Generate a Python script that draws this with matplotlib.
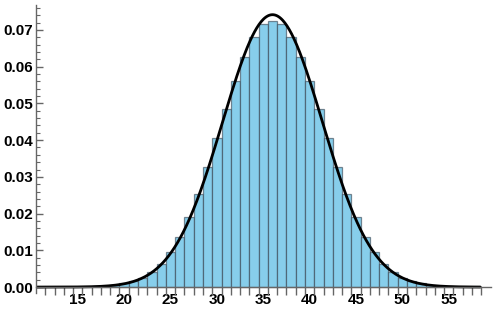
import numpy as np
import matplotlib
matplotlib.use("Agg")
import matplotlib.pyplot as plt
from matplotlib.ticker import FixedLocator, FormatStrFormatter

# Histogram data (bin centers, density heights), unit-width bins
bin_centers = list(range(15, 58))
densities = [0.00005, 0.0001, 0.0002, 0.0003, 0.0006, 0.0010, 0.0016, 0.0026,
             0.0041, 0.0064, 0.0095, 0.0136, 0.0190, 0.0253, 0.0326, 0.0405,
             0.0484, 0.0561, 0.0627, 0.0682, 0.0715, 0.0725, 0.0715, 0.0682,
             0.0627, 0.0561, 0.0484, 0.0405, 0.0326, 0.0253, 0.0190, 0.0136,
             0.0095, 0.0064, 0.0041, 0.0026, 0.0016, 0.0010, 0.0006, 0.0003,
             0.0002, 0.0001, 0.00005]

# Overlaid normal PDF parameters
mu = 36.0
sigma = 5.38
curve_range = (10.6, 58.4)

x_labels = [15, 20, 25, 30, 35, 40, 45, 50, 55]
y_labels = [0.00, 0.01, 0.02, 0.03, 0.04, 0.05, 0.06, 0.07]

plt.rcParams['font.family'] = ['Liberation Sans', 'DejaVu Sans']

fig = plt.figure(figsize=(5.0, 3.1), dpi=100)
ax = fig.add_axes([0.072, 0.055, 0.909, 0.929])

ax.bar(bin_centers, densities, width=1.0, align='center',
       color='#87CEEB', edgecolor=(0.2, 0.25, 0.3, 0.6), linewidth=0.9, zorder=2)

xs = np.linspace(curve_range[0], curve_range[1], 600)
pdf = np.exp(-0.5 * ((xs - mu) / sigma) ** 2) / (sigma * np.sqrt(2 * np.pi))
ax.plot(xs, pdf, color='black', linewidth=2.0, zorder=3, solid_capstyle='round')

ax.set_xlim(10.5, 59.5)
ax.set_ylim(-0.0016, 0.0768)

for s in ['top', 'right']:
    ax.spines[s].set_visible(False)
ax.spines['bottom'].set_position(('data', 0))
axis_col = '#666666'
for s in ['bottom', 'left']:
    ax.spines[s].set_color(axis_col)
    ax.spines[s].set_linewidth(1.0)
    ax.spines[s].set_zorder(4)

# x ticks: labels at integers, tick marks at half-integers
ax.xaxis.set_major_locator(FixedLocator(x_labels))
ax.xaxis.set_minor_locator(FixedLocator(np.arange(11.5, 59.0, 1.0)))
ax.tick_params(axis='x', which='major', length=0, pad=4.5, labelsize=11)
ax.tick_params(axis='x', which='minor', length=5.5, width=1.0, direction='out', color=axis_col)

# y ticks
ax.yaxis.set_major_locator(FixedLocator(y_labels))
ax.yaxis.set_minor_locator(FixedLocator(np.arange(0.0, 0.0769, 0.002)))
ax.yaxis.set_major_formatter(FormatStrFormatter('%.2f'))
ax.tick_params(axis='y', which='major', length=5, width=1.0, direction='in', color=axis_col, pad=2, labelsize=11)
ax.tick_params(axis='y', which='minor', length=3, width=0.8, direction='in', color=axis_col)

for lbl in ax.get_xticklabels() + ax.get_yticklabels():
    lbl.set_fontweight('bold')

fig.savefig('out.png', dpi=100)
